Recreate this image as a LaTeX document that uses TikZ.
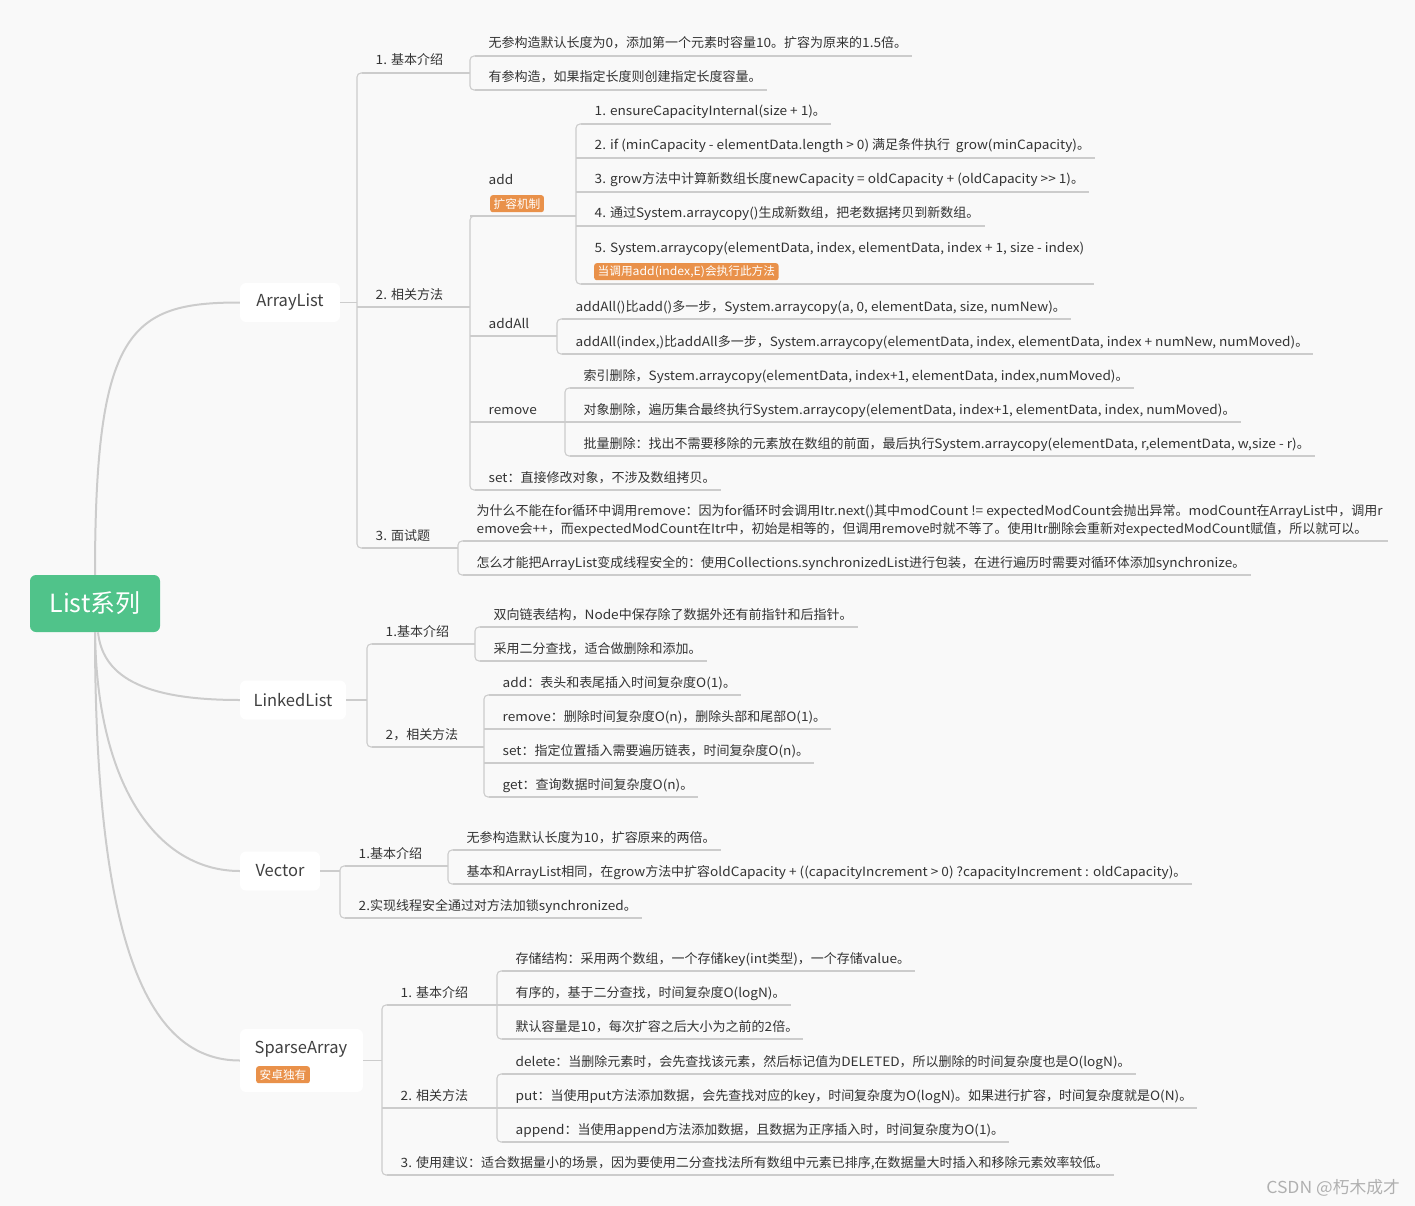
\documentclass[tikz,border=0pt]{standalone}
\usepackage{fontspec}
\setmainfont{Noto Sans CJK SC}[FakeStretch=1.065, Ligatures=TeXOff]
\newfontfamily\latf{Noto Sans CJK SC}[FakeStretch=1.065, Ligatures=TeXOff]
\newfontfamily\cjkf{Noto Sans CJK SC}[Ligatures=TeXOff]
\newfontfamily\cjkl{Noto Sans CJK SC}[Scale=1.015, Ligatures=TeXOff]
% switch to the unstretched face for CJK characters
\newXeTeXintercharclass\cjkclass
\newcount\mycc
\newcommand\setcjkrange[2]{\mycc=#1\relax\loop\XeTeXcharclass\mycc=\cjkclass\relax\ifnum\mycc<#2\relax\advance\mycc by 1\relax\repeat}
\setcjkrange{"3000}{"303F}
\setcjkrange{"4E00}{"9FFF}
\setcjkrange{"FF00}{"FFEF}
\XeTeXinterchartoks 0 \cjkclass = {\cjkl}
\XeTeXinterchartoks 4095 \cjkclass = {\cjkl}
\XeTeXinterchartoks \cjkclass 0 = {\latf}
\XeTeXinterchartoks 4095 0 = {\latf}
\XeTeXinterchartokenstate=1
\newcommand\noic{\XeTeXinterchartokenstate=0\relax}
\usetikzlibrary{calc}
\definecolor{bg}{RGB}{249,249,249}
\definecolor{lc}{RGB}{204,204,204}
\definecolor{txt}{RGB}{51,51,51}
\definecolor{txt2}{RGB}{64,64,64}
\definecolor{tagc}{RGB}{233,145,74}
\definecolor{rootc}{RGB}{80,195,138}
\definecolor{wm}{RGB}{176,176,176}
\tikzset{
 ln/.style={draw=lc, line width=1.1pt},
 rootln/.style={draw=lc, line width=2pt},
 leaf/.style={anchor=base west, inner sep=0pt, text=txt, font=\latf\fontsize{12.8}{15}\selectfont},
 tagbox/.style={fill=tagc, text=white, rounded corners=2.5pt, inner xsep=3.5pt, inner ysep=0pt, minimum height=17pt, font=\latf\fontsize{11.5}{13}\selectfont, anchor=north west},
 topic/.style={fill=white, rounded corners=6pt, text=txt2, font=\noic\cjkf\fontsize{16.5}{20}\selectfont, inner sep=0pt, minimum height=39pt},
 rootbox/.style={fill=rootc, rounded corners=6pt, text=white, font=\noic\cjkf\fontsize{25}{30}\selectfont, inner sep=0pt, minimum width=130pt, minimum height=57pt},
}
% leaf: name, X of bar, y centre, text, start offset
\newcommand\lf[5]{%
 \node[leaf] (#1) at ({#2+18.5},{#3+5}) {#4};
 \draw[ln] ({#2+#5},{#3+13}) -- ([shift={(5,8)}]#1.base east);}
% parent label: name, X, y centre, text, end X, start offset
\newcommand\pl[6]{%
 \node[leaf] (#1) at ({#2+18.5},{#3+5}) {#4};
 \draw[ln] ({#2+#6},{#3+13}) -- ({#5},{#3+13});}
% vertical bar: X, ytop, ybottom
\newcommand\vbar[3]{\draw[ln, rounded corners=4pt] ({#1+5},{#2}) -- ({#1},{#2}) -- ({#1},{#3}) -- ({#1+5},{#3});}
\begin{document}
\begin{tikzpicture}[x=1pt,y=-1pt]
\fill[bg] (0,0) rectangle (1415,1206);
\useasboundingbox (0,0) rectangle (1415,1206);

% ---------- root ----------
\node[rootbox] (root) at (95,603.5) {List系列};

% ---------- ArrayList ----------
\node[topic, minimum width=100pt] (AL) at (290,302.5) {ArrayList};
\draw[ln] (AL.east) -- (357,302.5);
\vbar{357}{73}{548}
\pl{a1}{357}{60}{1. 基本介绍}{470}{5}
\pl{a2}{357}{294}{2. 相关方法}{470}{0}
\pl{a3}{357}{535}{3. 面试题}{458}{5}

\vbar{470}{56}{90}
\lf{b1}{470}{43}{无参构造默认长度为0，添加第一个元素时容量10。扩容为原来的1.5倍。}{5}
\lf{b2}{470}{77}{有参构造，如果指定长度则创建指定长度容量。}{5}

\vbar{470}{216}{490}
\node[leaf] (add) at (488.5,185) {add};
\node[tagbox] (addtag) at (490,195) {扩容机制};
\draw[ln] (470,216) -- (576,216);
\pl{addall}{470}{323}{addAll}{557}{0}
\pl{remove}{470}{409}{remove}{565}{0}
\lf{set}{470}{477}{set：直接修改对象，不涉及数组拷贝。}{5}

\vbar{576}{124}{284}
\lf{c1}{576}{111}{1. ensureCapacityInternal(size + 1)。}{5}
\lf{c2}{576}{145}{2. if (minCapacity - elementData.length > 0) 满足条件执行\ \ grow(minCapacity)。}{0}
\lf{c3}{576}{179}{3. grow方法中计算新数组长度newCapacity = oldCapacity + (oldCapacity >> 1)。}{0}
\lf{c4}{576}{213}{4. 通过System.arraycopy()生成新数组，把老数据拷贝到新数组。}{0}
\node[leaf] (c5) at (594.5,252) {5. System.arraycopy(elementData, index, elementData, index + 1, size - index)};
\node[tagbox] (c5tag) at (594,263) {当调用add(index,E)会执行此方法};
\draw[ln] let \p1=(c5.base east) in (581,284) -- (\x1+10,284);

\vbar{557}{319}{354}
\lf{d1}{557}{306}{addAll()比add()多一步，System.arraycopy(a, 0, elementData, size, numNew)。}{5}
\lf{d2}{557}{341}{addAll(index,)比addAll多一步，System.arraycopy(elementData, index, elementData, index + numNew, numMoved)。}{5}

\vbar{565}{388}{456}
\lf{e1}{565}{375}{索引删除，System.arraycopy(elementData, index+1, elementData, index,numMoved)。}{5}
\lf{e2}{565}{409}{对象删除，遍历集合最终执行System.arraycopy(elementData, index+1, elementData, index, numMoved)。}{0}
\lf{e3}{565}{443}{批量删除：找出不需要移除的元素放在数组的前面，最后执行System.arraycopy(elementData, r,elementData, w,size - r)。}{5}

\vbar{458}{541}{575}
\node[leaf] (f1) at (476.5,515) {为什么不能在for循环中调用remove：因为for循环时会调用Itr.next()其中modCount != expectedModCount会抛出异常。modCount在ArrayList中，调用r};
\node[leaf] (f1b) at (476.5,533) {emove会++，而expectedModCount在Itr中，初始是相等的，但调用remove时就不等了。使用Itr删除会重新对expectedModCount赋值，所以就可以。};
\draw[ln] (463,541) -- ($(f1.base east |- f1b.base)+(5,8)$);
\lf{f2}{458}{562}{怎么才能把ArrayList变成线程安全的：使用Collections.synchronizedList进行包装，在进行遍历时需要对循环体添加synchronize。}{5}

% ---------- LinkedList ----------
\node[topic, minimum width=106pt] (LL) at (293,700) {LinkedList};
\draw[ln] (LL.east) -- (367,700);
\vbar{367}{644}{747}
\pl{g1}{367}{631}{1.基本介绍}{475}{5}
\pl{g2}{367}{734}{2，相关方法}{484}{5}
\vbar{475}{627}{661}
\lf{h1}{475}{614}{双向链表结构，Node中保存除了数据外还有前指针和后指针。}{5}
\lf{h2}{475}{648}{采用二分查找，适合做删除和添加。}{5}
\vbar{484}{695}{797}
\lf{i1}{484}{682}{add：表头和表尾插入时间复杂度O(1)。}{5}
\lf{i2}{484}{716}{remove：删除时间复杂度O(n)，删除头部和尾部O(1)。}{0}
\lf{i3}{484}{750}{set：指定位置插入需要遍历链表，时间复杂度O(n)。}{0}
\lf{i4}{484}{784}{get：查询数据时间复杂度O(n)。}{5}

% ---------- Vector ----------
\node[topic, minimum width=80pt] (VC) at (280,871) {Vector};
\draw[ln] (VC.east) -- (340,871);
\vbar{340}{866}{918}
\pl{j1}{340}{853}{1.基本介绍}{448}{5}
\lf{j2}{340}{905}{2.实现线程安全通过对方法加锁synchronized。}{5}
\vbar{448}{850}{884}
\lf{k1}{448}{837}{无参构造默认长度为10，扩容原来的两倍。}{5}
\lf{k2}{448}{871}{基本和ArrayList相同，在grow方法中扩容oldCapacity + ((capacityIncrement > 0) ?capacityIncrement : oldCapacity)。}{5}

% ---------- SparseArray ----------
\node[topic, minimum width=123pt, minimum height=63pt] (SA) at (301.5,1060.5) {};
\node[text=txt2, font=\noic\cjkf\fontsize{16.5}{20}\selectfont, inner sep=0pt] (SAt) at (301,1049) {SparseArray};
\node[tagbox] (SAtag) at (256,1066) {安卓独有};
\draw[ln] (SA.east) -- (382,1060.5);
\vbar{382}{1005}{1175}
\pl{l1}{382}{992}{1. 基本介绍}{497}{5}
\pl{l2}{382}{1095}{2. 相关方法}{497}{0}
\lf{l3}{382}{1162}{3. 使用建议：适合数据量小的场景，因为要使用二分查找法所有数组中元素已排序,在数据量大时插入和移除元素效率较低。}{5}
\vbar{497}{971}{1039}
\lf{m1}{497}{958}{存储结构：采用两个数组，一个存储key(int类型)，一个存储value。}{5}
\lf{m2}{497}{992}{有序的，基于二分查找，时间复杂度O(logN)。}{0}
\lf{m3}{497}{1026}{默认容量是10，每次扩容之后大小为之前的2倍。}{5}
\vbar{497}{1074}{1142}
\lf{n1}{497}{1061}{delete：当删除元素时，会先查找该元素，然后标记值为DELETED，所以删除的时间复杂度也是O(logN)。}{5}
\lf{n2}{497}{1095}{put：当使用put方法添加数据，会先查找对应的key，时间复杂度为O(logN)。如果进行扩容，时间复杂度就是O(N)。}{0}
\lf{n3}{497}{1129}{append：当使用append方法添加数据，且数据为正序插入时，时间复杂度为O(1)。}{5}

% ---------- root curves ----------
\draw[rootln] (root.north) .. controls (95,330) and (130,302.5) .. (AL.west);
\draw[rootln] ([xshift=3pt]root.south) .. controls (103,680) and (150,700) .. (LL.west);
\draw[rootln] (root.south) .. controls (97,790) and (160,871) .. (VC.west);
\draw[rootln] (root.south) .. controls (95,950) and (150,1060.5) .. (SA.west);

% ---------- watermark ----------
\node[text=wm, font=\latf\fontsize{16.5}{19}\selectfont, anchor=east, inner sep=0pt] (wmk) at (1400,1188) {CSDN @朽木成才};
\end{tikzpicture}
\end{document}
